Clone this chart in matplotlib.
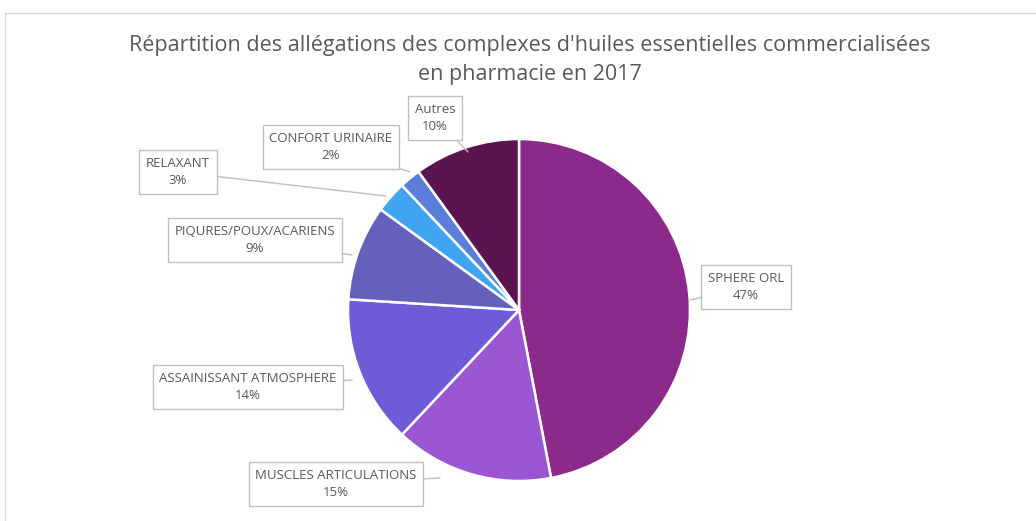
import matplotlib.pyplot as plt
from matplotlib.patches import Rectangle

# Data (clockwise from 12 o'clock)
categories = ['SPHERE ORL', 'MUSCLES ARTICULATIONS', 'ASSAINISSANT ATMOSPHERE',
              'PIQURES/POUX/ACARIENS', 'RELAXANT', 'CONFORT URINAIRE', 'Autres']
shares = [47, 15, 14, 9, 3, 2, 10]
colors = ['#8C2A8C', '#9B56D4', '#6F5BD8', '#6461BD', '#3FA4F2', '#5C7EDB', '#5A1550']

W, H = 1036, 521
fig = plt.figure(figsize=(W / 100, H / 100), dpi=100)
ax = fig.add_axes([0, 0, 1, 1])
ax.axis('off')

# chart frame
ax.add_patch(Rectangle((5, 13), W + 10, H, fill=False, edgecolor='#d9d9d9', lw=1))

# y axis is flipped (pixel coords), so clockwise on screen = counterclock in data
cx, cy, r = 519, 310, 171
wedges, _ = ax.pie(shares, colors=colors, startangle=-90, counterclock=True,
                   center=(cx, cy), radius=r,
                   wedgeprops=dict(edgecolor='white', linewidth=1.8))
ax.set_xlim(0, W)
ax.set_ylim(H, 0)
ax.set_aspect('equal')

ax.text(530, 60, "Répartition des allégations des complexes d'huiles essentielles commercialisées\nen pharmacie en 2017",
        ha='center', va='center', fontsize=15.5, color='#595959', family='Open Sans',
        linespacing=1.45)

# label box centers and leader target points (pixels)
box_pos = [(746, 287), (336, 484), (248, 387), (255, 240), (178, 172), (331, 147), (435, 118)]
tips = [(690, 300), (440, 478), (352, 380), (352, 255), (386, 196), (410, 172), (468, 152)]

for cat, val, (bx, by), tip in zip(categories, shares, box_pos, tips):
    ax.annotate(f'{cat}\n{val}%', xy=tip, xytext=(bx, by),
                ha='center', va='center', fontsize=9.5, color='#595959',
                family='Open Sans', linespacing=1.4,
                bbox=dict(boxstyle='square,pad=0.5', fc='white', ec='#bfbfbf', lw=1),
                arrowprops=dict(arrowstyle='-', color='#bfbfbf', lw=1,
                                shrinkA=0, shrinkB=0))

fig.savefig('out.png', dpi=100)
